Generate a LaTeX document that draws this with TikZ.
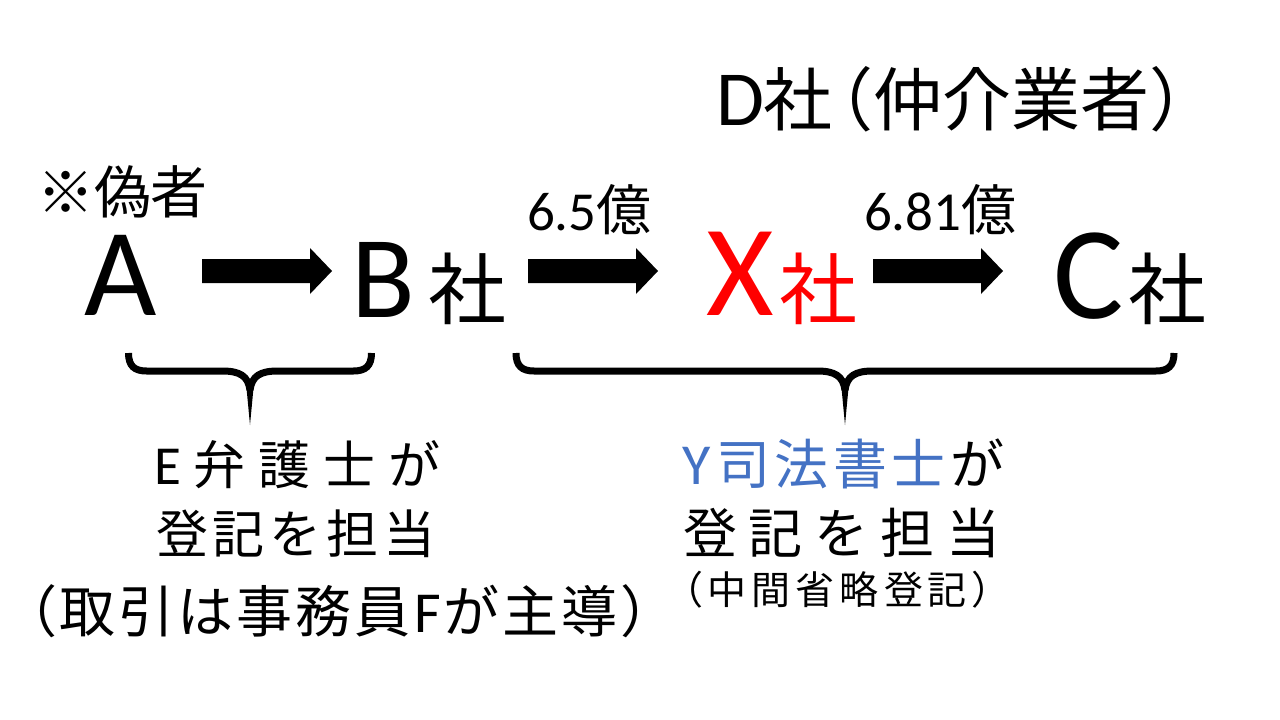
\documentclass[tikz,border=0pt]{standalone}
\usepackage{fontspec}
\setmainfont{Carlito}
\newfontfamily\cjk{Noto Sans CJK JP}
\newfontfamily\cjkhalt[RawFeature=+halt]{Noto Sans CJK JP}
\newcommand\fsz[1]{\fontsize{#1pt}{#1pt}\selectfont}
\definecolor{ppblue}{HTML}{4472C4}
\newcommand\mybrace[3]{%
  \draw[line width=7pt] (#1,353) .. controls (#1,366) and (#1+6,371) .. (#1+18,371) -- (#3-28,371) .. controls (#3-10,371) and (#3-2,376) .. (#3,390);
  \draw[line width=7pt] (#2,353) .. controls (#2,366) and (#2-6,371) .. (#2-18,371) -- (#3+28,371) .. controls (#3+10,371) and (#3+2,376) .. (#3,390);
  \fill (#3-3.5,388) -- (#3,425) -- (#3+3.5,388) -- cycle;}
\begin{document}
\begin{tikzpicture}[x=1pt,y=-1pt,
  txt/.style={anchor=base west, inner sep=0pt, outer sep=0pt},
  blockarrow/.pic={\fill[black] (0,-12) -- (108,-12) -- (108,-23) -- (130,0) -- (108,23) -- (108,12) -- (0,12) -- cycle;}]
\useasboundingbox (0,0) rectangle (1280,720);
\fill[white] (0,0) rectangle (1280,720);
% top row
\node[txt] (D) at (716,125) {\fsz{78}D\cjk\fsz{69}社\kern-29pt（仲介業者）};
\node[txt] (note) at (37,213) {\cjk\fsz{57}※偽者};
\node[txt] (p1) at (527,230) {\fsz{55}6.5{\cjk 億}};
\node[txt] (p2) at (864,230) {\fsz{55}6.81{\cjk 億}};
% main row
\node[txt] (A) at (84,315) {\fsz{125}A};
\node[txt] (B) at (351,317) {\fsz{117}B};
\node[txt] (Bsha) at (428,318) {\cjk\fsz{78}社};
\node[txt,text=red] (X) at (706,315) {\fsz{130}X};
\node[txt,text=red] (Xsha) at (779,318) {\cjk\fsz{78}社};
\node[txt] (C) at (1053,318) {\fsz{132}C};
\node[txt] (Csha) at (1128,318) {\cjk\fsz{78}社};
% arrows
\pic at (202,271) {blockarrow};
\pic at (528,271) {blockarrow};
\pic at (873,271) {blockarrow};
% braces
\mybrace{128.5}{371.5}{250}
\mybrace{516}{1174}{845}
% left notes
\node[txt] (E1) at (154,484) {\fsz{55}E\kern13pt\cjk\fsz{52}弁\kern13pt 護\kern13pt 士\kern13pt が};
\node[txt] (E2) at (156,553) {\cjk\fsz{52}登\kern5pt 記\kern5pt を\kern5pt 担\kern5pt 当};
\node[txt] (E3) at (29,632) {\cjk\fsz{56}{\cjkhalt（}\kern3pt 取\kern3pt 引\kern3pt は\kern3pt 事\kern3pt 務\kern3pt 員\kern3pt{\rmfamily\fsz{58}F}\kern3pt が\kern3pt 主\kern3pt 導\kern3pt ）};
% right notes
\node[txt,text=ppblue] (Y1) at (682,484) {\fsz{58}Y\kern6pt\cjk\fsz{54}司\kern4.5pt 法\kern4.5pt 書\kern4.5pt 士\kern4.5pt{\color{black}が}};
\node[txt] (Y2) at (683,553) {\cjk\fsz{54}登\kern12pt 記\kern12pt を\kern12pt 担\kern12pt 当};
\node[txt] (Y3) at (664,604) {\cjk\fsz{39}（\kern5pt 中\kern5pt 間\kern5pt 省\kern5pt 略\kern5pt 登\kern5pt 記\kern5pt ）};
\end{tikzpicture}
\end{document}
